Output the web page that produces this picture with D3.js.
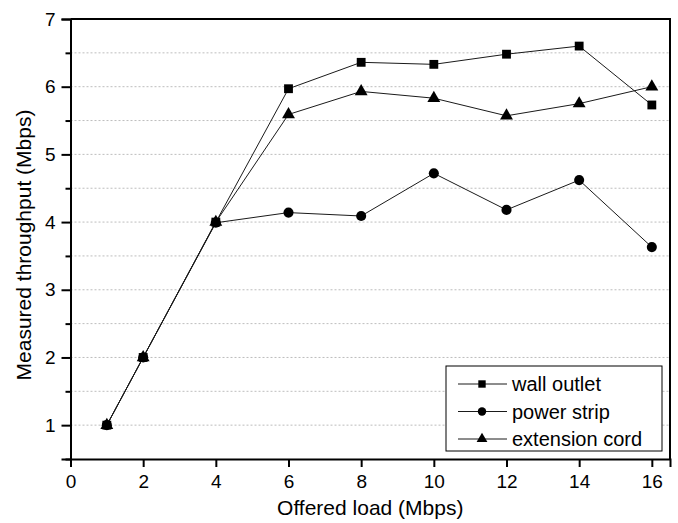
<!DOCTYPE html>
<html>
<head>
<meta charset="utf-8">
<script src="https://cdn.jsdelivr.net/npm/d3@7"></script>
<style>
  body { margin: 0; background: #fff; }
  svg text { font-family: "Liberation Sans", Arial, sans-serif; fill: #000; }
</style>
</head>
<body>
<div id="chart"></div>
<script>
// Throughput vs offered load, three power setups
const width = 678;
const height = 523;
const margin = { top: 19, right: 8, bottom: 64, left: 70.5 };

const loads = [1, 2, 4, 6, 8, 10, 12, 14, 16];
const wallOutlet = [1, 2, 4, 5.97, 6.36, 6.33, 6.48, 6.60, 5.73];
const powerStrip = [1, 2, 3.99, 4.14, 4.09, 4.72, 4.18, 4.62, 3.63];
const extensionCord = [1, 2, 4, 5.59, 5.93, 5.83, 5.57, 5.75, 6.0];
const seriesNames = ['wall outlet', 'power strip', 'extension cord'];
const xTicks = [0, 2, 4, 6, 8, 10, 12, 14, 16];
const yTicks = [1, 2, 3, 4, 5, 6, 7];
const yMinor = [0.5, 1.5, 2.5, 3.5, 4.5, 5.5, 6.5];

const series = [
    { name: seriesNames[0], values: wallOutlet, symbol: d3.symbolSquare, size: 78 },
    { name: seriesNames[1], values: powerStrip, symbol: d3.symbolCircle, size: 80 },
    { name: seriesNames[2], values: extensionCord, symbol: d3.symbolTriangle, size: 72 }
];

const svg = d3.select('#chart')
    .append('svg')
    .attr('width', width)
    .attr('height', height);

const x = d3.scaleLinear().domain([0, 16.5]).range([margin.left, width - margin.right]);
const y = d3.scaleLinear().domain([0.5, 7]).range([height - margin.bottom, margin.top]);

// dotted horizontal grid
const gridVals = d3.range(1, 7, 0.5);
svg.append('g')
    .selectAll('line')
    .data(gridVals)
    .enter()
    .append('line')
    .attr('x1', x(0))
    .attr('x2', x(16.5))
    .attr('y1', d => y(d))
    .attr('y2', d => y(d))
    .attr('stroke', '#bdbdbd')
    .attr('stroke-width', 1)
    .attr('stroke-dasharray', '2,2');

// series lines + markers
const line = d3.line()
    .x((d, i) => x(loads[i]))
    .y(d => y(d));

series.forEach(s => {
    svg.append('path')
        .datum(s.values)
        .attr('d', line)
        .attr('fill', 'none')
        .attr('stroke', '#1a1a1a')
        .attr('stroke-width', 1);
});

series.forEach(s => {
    svg.append('g')
        .selectAll('path')
        .data(s.values)
        .enter()
        .append('path')
        .attr('d', d3.symbol().type(s.symbol).size(s.size))
        .attr('transform', (d, i) => `translate(${x(loads[i])},${y(d)})`)
        .attr('fill', '#000');
});

// axes
const xAxis = svg.append('g')
    .attr('transform', `translate(0,${y(0.5)})`)
    .call(d3.axisBottom(x).tickValues(xTicks).tickFormat(d3.format('d')).tickSize(8).tickPadding(8));

const yAxis = svg.append('g')
    .attr('transform', `translate(${x(0)},0)`)
    .call(d3.axisLeft(y).tickValues(yTicks).tickFormat(d3.format('d')).tickSize(9).tickPadding(6));

svg.append('g')
    .attr('transform', `translate(${x(0)},0)`)
    .call(d3.axisLeft(y).tickValues(yMinor).tickSize(5).tickFormat(''))
    .select('.domain').remove();

[xAxis, yAxis].forEach(a => {
    a.select('.domain').attr('stroke', '#000').attr('stroke-width', 2);
    a.selectAll('.tick text').style('font-size', '19px');
});
svg.selectAll('.tick line').attr('stroke', '#000').attr('stroke-width', 2);

// top and right frame
svg.append('line')
    .attr('x1', x(0)).attr('x2', x(16.5))
    .attr('y1', y(7)).attr('y2', y(7))
    .attr('stroke', '#000').attr('stroke-width', 2);
svg.append('line')
    .attr('x1', x(16.5)).attr('x2', x(16.5))
    .attr('y1', y(7) - 1).attr('y2', y(0.5) + 1)
    .attr('stroke', '#000').attr('stroke-width', 2);

// axis titles
svg.append('text')
    .attr('x', (x(0) + x(16.5)) / 2)
    .attr('y', 515)
    .attr('text-anchor', 'middle')
    .style('font-size', '21px')
    .text('Offered load (Mbps)');

svg.append('text')
    .attr('transform', `translate(31,${(y(0.5) + y(7)) / 2 + 6}) rotate(-90)`)
    .attr('text-anchor', 'middle')
    .style('font-size', '21px')
    .text('Measured throughput (Mbps)');

// legend
const legend = svg.append('g').attr('transform', 'translate(446,366)');
legend.append('rect')
    .attr('width', 216)
    .attr('height', 85)
    .attr('fill', '#fff')
    .attr('stroke', '#000')
    .attr('stroke-width', 1);

series.forEach((s, i) => {
    const row = legend.append('g').attr('transform', `translate(0,${18 + i * 27.5})`);
    row.append('line')
        .attr('x1', 12).attr('x2', 61)
        .attr('stroke', '#1a1a1a').attr('stroke-width', 1);
    row.append('path')
        .attr('d', d3.symbol().type(s.symbol).size(s.size * 0.7))
        .attr('transform', 'translate(36,0)')
        .attr('fill', '#000');
    row.append('text')
        .attr('x', 66)
        .attr('dy', '0.35em')
        .style('font-size', '20px')
        .text(s.name);
});
</script>
</body>
</html>
